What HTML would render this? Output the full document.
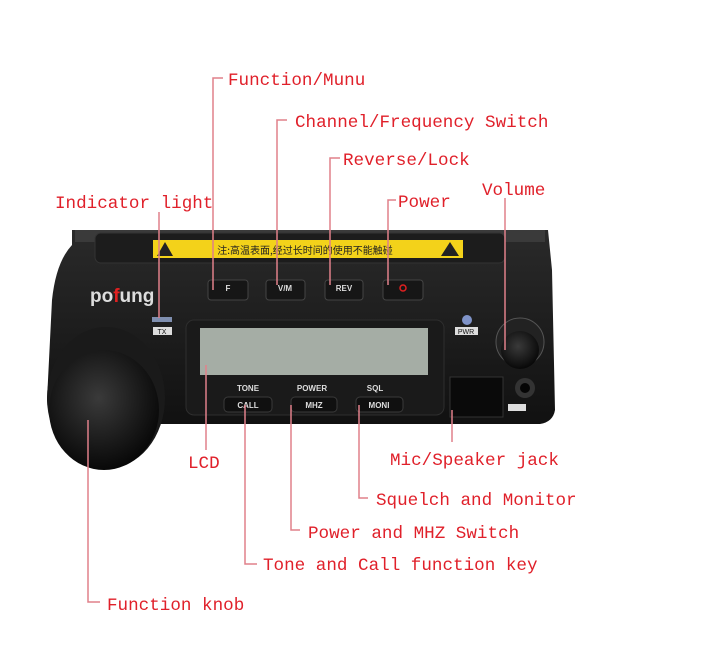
<!DOCTYPE html>
<html><head><meta charset="utf-8"><style>
html,body{margin:0;padding:0;background:#fff;}
svg{display:block}
.l{font-family:"Liberation Mono","Noto Serif CJK SC",monospace;font-size:17.6px;fill:#e0202a;}
.r{stroke:#e0808a;stroke-width:1.5;fill:none}
.b{font-family:"Liberation Sans",sans-serif;font-weight:bold;fill:#ddd;font-size:8px;text-anchor:middle}
</style></head><body>
<svg width="725" height="661" viewBox="0 0 725 661">
<defs>
<radialGradient id="kn" cx="0.45" cy="0.4" r="0.6"><stop offset="0" stop-color="#3a3a3a"/><stop offset="1" stop-color="#080808"/></radialGradient>
<linearGradient id="bd" x1="0" y1="0" x2="0" y2="1"><stop offset="0" stop-color="#2a2a2a"/><stop offset="1" stop-color="#111"/></linearGradient>
</defs>
<!-- radio body -->
<path d="M72 230 L548 230 L552 270 L555 410 Q553 422 540 424 L60 424 Q48 420 47 400 L52 300 Q56 262 72 245 Z" fill="url(#bd)"/>
<rect x="75" y="230" width="470" height="12" fill="#3a3a3a"/>
<rect x="95" y="233" width="410" height="30" rx="6" fill="#1c1c1c" stroke="#333"/>
<rect x="153" y="240" width="310" height="18" fill="#f3d21a"/>
<text x="305" y="254" font-family="'Noto Sans CJK SC',sans-serif" font-size="10" fill="#222" text-anchor="middle">注:高温表面,经过长时间的使用不能触碰</text>
<polygon points="157,256 165,242 173,256" fill="#222"/>
<polygon points="441,256 450,242 459,256" fill="#222"/>
<!-- top buttons -->
<g fill="#161616" stroke="#444">
<rect x="208" y="280" width="40" height="20" rx="3"/>
<rect x="266" y="280" width="39" height="20" rx="3"/>
<rect x="325" y="280" width="38" height="20" rx="3"/>
<rect x="383" y="280" width="40" height="20" rx="3"/>
</g>
<text class="b" x="228" y="291">F</text><text class="b" x="285" y="291">V/M</text><text class="b" x="344" y="291">REV</text>
<circle cx="403" cy="288" r="3" fill="none" stroke="#e02020" stroke-width="1.5"/>
<text x="90" y="302" font-family="'Liberation Sans',sans-serif" font-weight="bold" font-size="19" fill="#ddd">po<tspan fill="#e02020">f</tspan>ung</text>
<rect x="152" y="317" width="20" height="5" fill="#7f8fb0"/>
<rect x="153" y="327" width="19" height="8" fill="#ddd"/><text x="162" y="334" font-size="7" font-family="'Liberation Sans',sans-serif" text-anchor="middle" fill="#111">TX</text>
<!-- LCD -->
<rect x="186" y="320" width="258" height="95" rx="8" fill="#1a1a1a" stroke="#2e2e2e"/>
<rect x="200" y="328" width="228" height="47" fill="#a5ada5"/>
<text class="b" x="248" y="391">TONE</text><text class="b" x="312" y="391">POWER</text><text class="b" x="375" y="391">SQL</text>
<g fill="#101010" stroke="#3a3a3a"><rect x="224" y="397" width="48" height="15" rx="4"/><rect x="291" y="397" width="46" height="15" rx="4"/><rect x="356" y="397" width="47" height="15" rx="4"/></g>
<text class="b" x="248" y="408">CALL</text><text class="b" x="314" y="408">MHZ</text><text class="b" x="379" y="408">MONI</text>
<!-- right side -->
<circle cx="467" cy="320" r="5" fill="#7f93c8"/>
<rect x="455" y="327" width="23" height="8" fill="#ddd"/><text x="466" y="334" font-size="7" font-family="'Liberation Sans',sans-serif" text-anchor="middle" fill="#111">PWR</text>
<circle cx="520" cy="342" r="24" fill="#222" stroke="#555"/>
<circle cx="520" cy="350" r="19" fill="url(#kn)"/>
<rect x="450" y="377" width="53" height="40" fill="#0a0a0a" stroke="#333"/>
<circle cx="525" cy="388" r="10" fill="#333"/><circle cx="525" cy="388" r="5" fill="#050505"/>
<rect x="508" y="404" width="18" height="7" fill="#ddd"/>
<!-- big knob -->
<ellipse cx="106" cy="398" rx="59" ry="71" fill="#1a1a1a"/>
<ellipse cx="104" cy="410" rx="55" ry="60" fill="url(#kn)"/>
<!-- connectors -->
<g class="r">
<path d="M223 78 H213 V290"/>
<path d="M287 120 H277 V285"/>
<path d="M340 158 H330 V285"/>
<path d="M396 200 H388 V285"/>
<path d="M505 198 V350"/>
<path d="M159 212 V318"/>
<path d="M206 365 V450"/>
<path d="M452 410 V442"/>
<path d="M359 405 V498 H368"/>
<path d="M291 405 V530 H300"/>
<path d="M245 405 V564 H257"/>
<path d="M88 420 V602 H100"/>
</g>
<g class="l">
<text x="228" y="85">Function/Munu</text>
<text x="295" y="127">Channel/Frequency Switch</text>
<text x="343" y="165">Reverse/Lock</text>
<text x="398" y="207">Power</text>
<text x="482" y="195">Volume</text>
<text x="55" y="208">Indicator light</text>
<text x="188" y="468">LCD</text>
<text x="390" y="465">Mic/Speaker jack</text>
<text x="376" y="505">Squelch and Monitor</text>
<text x="308" y="538">Power and MHZ Switch</text>
<text x="263" y="570">Tone and Call function key</text>
<text x="107" y="610">Function knob</text>
</g>
</svg>
</body></html>
